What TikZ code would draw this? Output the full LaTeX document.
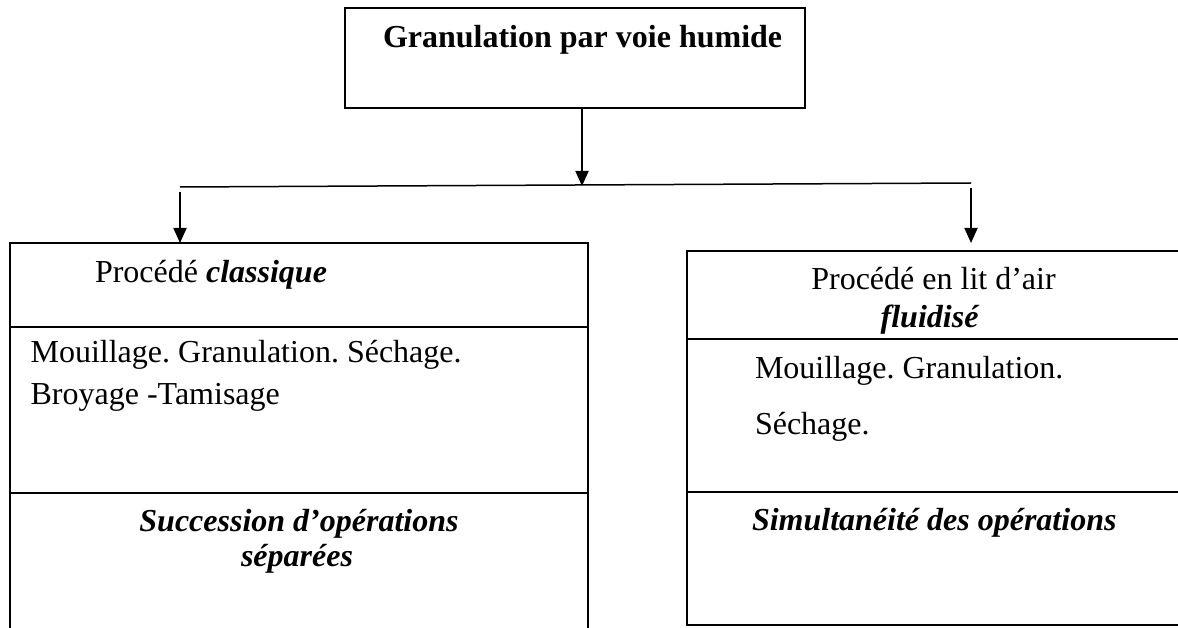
\documentclass[tikz,border=0pt]{standalone}
\usepackage{fontspec}
\setmainfont{Liberation Serif}
\usetikzlibrary{arrows.meta}
\frenchspacing
\begin{document}
\begin{tikzpicture}[x=1pt,y=-1pt,
  boxline/.style={draw=black,line width=2.2pt},
  cell/.style={boxline,rectangle,inner sep=0pt,outer sep=0pt},
  arr/.style={draw=black,line width=1.8pt,-{Triangle[length=15pt,width=13pt]}},
  bus/.style={draw=black,line width=1.5pt},
  txt/.style={inner sep=0pt,outer sep=0pt,font=\fontsize{32}{38}\selectfont},
  txtl/.style={txt,anchor=base west},
  txtc/.style={txt,anchor=base}]
\useasboundingbox (0,0) rectangle (1178,628);
\clip (0,0) rectangle (1178,628);
% top box
\node[cell,minimum width=460pt,minimum height=100pt] (top) at (575,58) {};
\node[txtl] (title) at (383,48) {\textbf{Granulation par voie humide}};
% left column cells
\node[cell,minimum width=578pt,minimum height=84pt] (l1) at (299,285) {};
\node[cell,minimum width=578pt,minimum height=166pt] (l2) at (299,410) {};
\node[cell,minimum width=578pt,minimum height=138pt] (l3) at (299,562) {};
% right column cells
\node[cell,minimum width=494pt,minimum height=88pt] (r1) at (934,295) {};
\node[cell,minimum width=494pt,minimum height=153pt] (r2) at (934,415.5) {};
\node[cell,minimum width=494pt,minimum height=133pt] (r3) at (934,558.5) {};
% texts left
\node[txtl] (lt1) at (95,283) {Procédé \textbf{\textit{classique}}};
\node[txtl] (lt2) at (30.6,362.5) {Mouillage. Granulation. Séchage.};
\node[txtl] (lt3) at (30.6,404) {Broyage -Tamisage};
\node[txtc] (lt4) at (299,531) {\textbf{\textit{Succession d’opérations}}};
\node[txtc] (lt5) at (297,566) {\textbf{\textit{séparées}}};
% texts right
\node[txtc] (rt1) at (933.5,290) {Procédé en lit d’air};
\node[txtc] (rt2) at (930,327) {\textbf{\textit{fluidisé}}};
\node[txtl] (rt3) at (755,378) {Mouillage. Granulation.};
\node[txtl] (rt4) at (755,434) {Séchage.};
\node[txtl] (rt5) at (752,530) {\textbf{\textit{Simultanéité des opérations}}};
% connectors
\coordinate (busL) at (180,187);
\coordinate (busR) at (971,183);
\coordinate (busM) at (582,186);
\coordinate (rEnd) at (971,243);
\draw[arr] (top.south -| busM) -- (busM);
\draw[bus] (busL) -- (busR);
\draw[arr] ([yshift=-5pt]busL) -- (l1.north -| busL);
\draw[arr] ([yshift=-5pt]busR) -- (rEnd);
\end{tikzpicture}
\end{document}
